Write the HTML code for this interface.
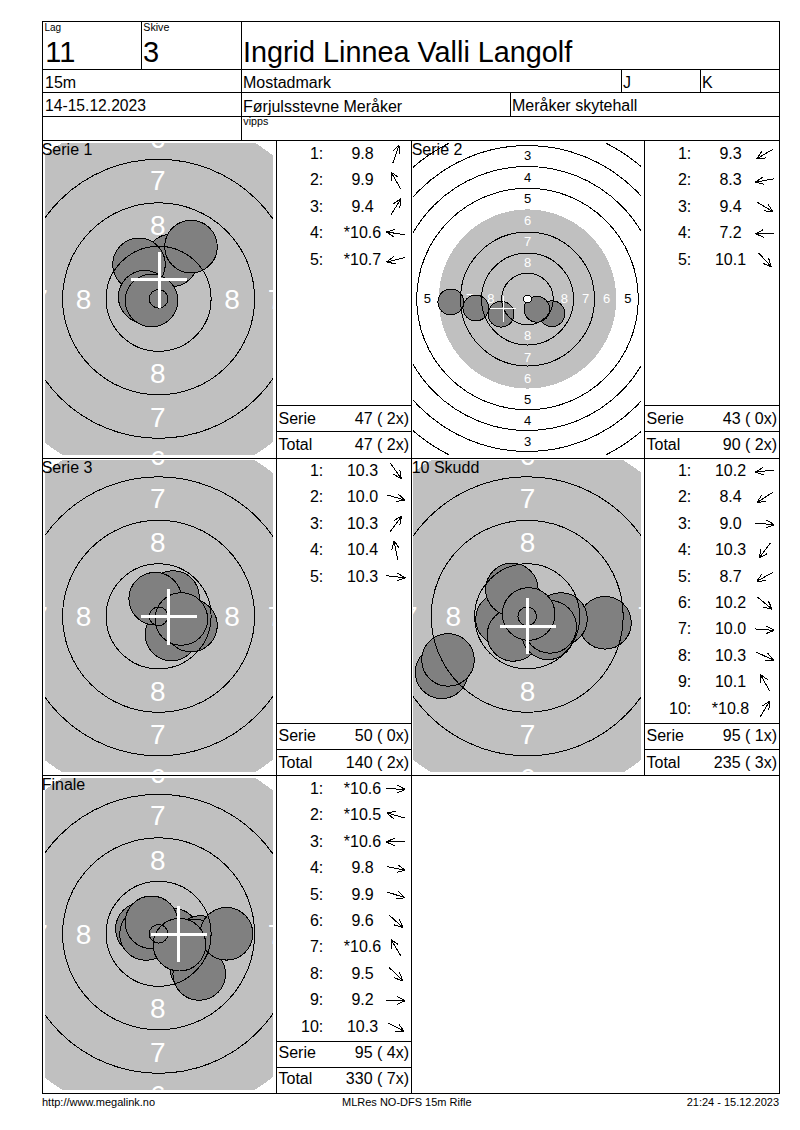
<!DOCTYPE html>
<html><head><meta charset="utf-8"><title>MLRes</title>
<style>html,body{margin:0;padding:0;background:#fff}svg{display:block}text{font-family:"Liberation Sans", sans-serif;}</style>
</head><body>
<svg width="800" height="1130" viewBox="0 0 800 1130">
<rect x="0" y="0" width="800" height="1130" fill="#fff"/>
<clipPath id="clip0"><rect x="45" y="143" width="228" height="312"/></clipPath>
<g clip-path="url(#clip0)" shape-rendering="crispEdges">
<circle cx="158.6" cy="298.8" r="183.30" fill="#c0c0c0"/>
<text x="157.80" y="234.57" font-size="28" text-anchor="middle" fill="#fff">8</text>
<text x="157.80" y="383.07" font-size="28" text-anchor="middle" fill="#fff">8</text>
<text x="83.55" y="308.82" font-size="28" text-anchor="middle" fill="#fff">8</text>
<text x="232.05" y="308.82" font-size="28" text-anchor="middle" fill="#fff">8</text>
<text x="157.80" y="190.07" font-size="28" text-anchor="middle" fill="#fff">7</text>
<text x="157.80" y="426.57" font-size="28" text-anchor="middle" fill="#fff">7</text>
<text x="40.05" y="308.82" font-size="28" text-anchor="middle" fill="#fff">7</text>
<text x="275.55" y="308.82" font-size="28" text-anchor="middle" fill="#fff">7</text>
<text x="157.80" y="147.57" font-size="28" text-anchor="middle" fill="#fff">6</text>
<text x="157.80" y="470.07" font-size="28" text-anchor="middle" fill="#fff">6</text>
<text x="-3.45" y="308.82" font-size="28" text-anchor="middle" fill="#fff">6</text>
<text x="319.05" y="308.82" font-size="28" text-anchor="middle" fill="#fff">6</text>
<text x="157.80" y="104.07" font-size="28" text-anchor="middle" fill="#000">5</text>
<text x="157.80" y="513.57" font-size="28" text-anchor="middle" fill="#000">5</text>
<text x="-46.95" y="308.82" font-size="28" text-anchor="middle" fill="#000">5</text>
<text x="362.55" y="308.82" font-size="28" text-anchor="middle" fill="#000">5</text>
<circle cx="171.5" cy="260.4" r="26.30" fill="#808080" stroke="#000" stroke-width="1"/>
<circle cx="139" cy="264.4" r="26.30" fill="#808080" stroke="#000" stroke-width="1"/>
<circle cx="191" cy="246.6" r="26.30" fill="#808080" stroke="#000" stroke-width="1"/>
<circle cx="144.7" cy="296.8" r="26.30" fill="#808080" stroke="#000" stroke-width="1"/>
<circle cx="151.5" cy="300.5" r="26.30" fill="#808080" stroke="#000" stroke-width="1"/>
<circle cx="158.6" cy="298.8" r="9.30" fill="none" stroke="#000" stroke-width="1"/>
<circle cx="158.6" cy="298.8" r="52.50" fill="none" stroke="#000" stroke-width="1"/>
<circle cx="158.6" cy="298.8" r="96.00" fill="none" stroke="#000" stroke-width="1"/>
<circle cx="158.6" cy="298.8" r="139.50" fill="none" stroke="#000" stroke-width="1"/>
<circle cx="158.6" cy="298.8" r="226.50" fill="none" stroke="#000" stroke-width="1"/>
<rect x="131.3" y="278.0" width="56" height="3" fill="#fff"/>
<rect x="157.8" y="251.5" width="3" height="56" fill="#fff"/>
</g>
<text x="41.7" y="155" font-size="16" text-anchor="start" fill="#000" >Serie 1</text>
<text x="323.3" y="158.75" font-size="16" text-anchor="end" fill="#000" >1:</text>
<text x="362.5" y="158.75" font-size="16" text-anchor="middle" fill="#000" >9.8</text>
<path d="M392.87,163.01L398.93,144.99M398.93,144.99L392.72,151.52M398.93,144.99L399.93,153.94" stroke="#000" stroke-width="1" fill="none" shape-rendering="crispEdges"/>
<text x="323.3" y="185.20" font-size="16" text-anchor="end" fill="#000" >2:</text>
<text x="362.5" y="185.20" font-size="16" text-anchor="middle" fill="#000" >9.9</text>
<path d="M400.60,188.70L391.20,172.20M391.20,172.20L391.93,181.17M391.20,172.20L398.54,177.40" stroke="#000" stroke-width="1" fill="none" shape-rendering="crispEdges"/>
<text x="323.3" y="211.65" font-size="16" text-anchor="end" fill="#000" >3:</text>
<text x="362.5" y="211.65" font-size="16" text-anchor="middle" fill="#000" >9.4</text>
<path d="M390.89,214.97L400.91,198.83M400.91,198.83L393.38,203.75M400.91,198.83L399.84,207.76" stroke="#000" stroke-width="1" fill="none" shape-rendering="crispEdges"/>
<text x="323.3" y="238.10" font-size="16" text-anchor="end" fill="#000" >4:</text>
<text x="362.5" y="238.10" font-size="16" text-anchor="middle" fill="#000" >*10.6</text>
<path d="M405.30,234.70L386.50,232.00M386.50,232.00L394.03,236.92M386.50,232.00L395.11,229.39" stroke="#000" stroke-width="1" fill="none" shape-rendering="crispEdges"/>
<text x="323.3" y="264.55" font-size="16" text-anchor="end" fill="#000" >5:</text>
<text x="362.5" y="264.55" font-size="16" text-anchor="middle" fill="#000" >*10.7</text>
<path d="M405.14,257.59L386.66,262.01M386.66,262.01L395.48,263.81M386.66,262.01L393.71,256.41" stroke="#000" stroke-width="1" fill="none" shape-rendering="crispEdges"/>
<text x="278.5" y="423.75" font-size="16" text-anchor="start" fill="#000" >Serie</text>
<text x="409" y="423.75" font-size="16" text-anchor="end" fill="#000" >47 ( 2x)</text>
<text x="278.5" y="450" font-size="16" text-anchor="start" fill="#000" >Total</text>
<text x="409" y="450" font-size="16" text-anchor="end" fill="#000" >47 ( 2x)</text>
<clipPath id="clip1"><rect x="413" y="143" width="228" height="312"/></clipPath>
<g clip-path="url(#clip1)" shape-rendering="crispEdges">
<ellipse cx="527.5" cy="299.0" rx="88.8" ry="89.6" fill="#c0c0c0"/>
<text x="527.60" y="266.95" font-size="13" text-anchor="middle" fill="#fff">8</text>
<text x="527.60" y="340.35" font-size="13" text-anchor="middle" fill="#fff">8</text>
<text x="490.90" y="302.85" font-size="13" text-anchor="middle" fill="#fff">8</text>
<text x="564.30" y="302.85" font-size="13" text-anchor="middle" fill="#fff">8</text>
<text x="527.60" y="245.75" font-size="13" text-anchor="middle" fill="#fff">7</text>
<text x="527.60" y="361.55" font-size="13" text-anchor="middle" fill="#fff">7</text>
<text x="469.70" y="302.85" font-size="13" text-anchor="middle" fill="#fff">7</text>
<text x="585.50" y="302.85" font-size="13" text-anchor="middle" fill="#fff">7</text>
<text x="527.60" y="224.55" font-size="13" text-anchor="middle" fill="#fff">6</text>
<text x="527.60" y="382.75" font-size="13" text-anchor="middle" fill="#fff">6</text>
<text x="448.50" y="302.85" font-size="13" text-anchor="middle" fill="#fff">6</text>
<text x="606.70" y="302.85" font-size="13" text-anchor="middle" fill="#fff">6</text>
<text x="527.60" y="203.35" font-size="13" text-anchor="middle" fill="#000">5</text>
<text x="527.60" y="403.95" font-size="13" text-anchor="middle" fill="#000">5</text>
<text x="427.30" y="302.85" font-size="13" text-anchor="middle" fill="#000">5</text>
<text x="627.90" y="302.85" font-size="13" text-anchor="middle" fill="#000">5</text>
<text x="527.60" y="182.15" font-size="13" text-anchor="middle" fill="#000">4</text>
<text x="527.60" y="425.15" font-size="13" text-anchor="middle" fill="#000">4</text>
<text x="406.10" y="302.85" font-size="13" text-anchor="middle" fill="#000">4</text>
<text x="649.10" y="302.85" font-size="13" text-anchor="middle" fill="#000">4</text>
<text x="527.60" y="160.15" font-size="13" text-anchor="middle" fill="#000">3</text>
<text x="527.60" y="446.35" font-size="13" text-anchor="middle" fill="#000">3</text>
<text x="384.90" y="302.85" font-size="13" text-anchor="middle" fill="#000">3</text>
<text x="670.30" y="302.85" font-size="13" text-anchor="middle" fill="#000">3</text>
<text x="527.60" y="139.75" font-size="13" text-anchor="middle" fill="#000">2</text>
<text x="527.60" y="467.55" font-size="13" text-anchor="middle" fill="#000">2</text>
<text x="363.70" y="302.85" font-size="13" text-anchor="middle" fill="#000">2</text>
<text x="691.50" y="302.85" font-size="13" text-anchor="middle" fill="#000">2</text>
<text x="527.60" y="118.55" font-size="13" text-anchor="middle" fill="#000">1</text>
<text x="527.60" y="488.75" font-size="13" text-anchor="middle" fill="#000">1</text>
<text x="342.50" y="302.85" font-size="13" text-anchor="middle" fill="#000">1</text>
<text x="712.70" y="302.85" font-size="13" text-anchor="middle" fill="#000">1</text>
<circle cx="501.1" cy="314.2" r="12.89" fill="#808080" stroke="#000" stroke-width="1"/>
<circle cx="475.8" cy="308.0" r="12.89" fill="#808080" stroke="#000" stroke-width="1"/>
<circle cx="552" cy="313.7" r="12.89" fill="#808080" stroke="#000" stroke-width="1"/>
<circle cx="450.8" cy="301.9" r="12.89" fill="#808080" stroke="#000" stroke-width="1"/>
<circle cx="536.9" cy="309.3" r="12.89" fill="#808080" stroke="#000" stroke-width="1"/>
<circle cx="527.5" cy="299.0" r="3.90" fill="#fff" stroke="#000" stroke-width="1"/>
<circle cx="527.5" cy="299.0" r="25.80" fill="none" stroke="#000" stroke-width="1"/>
<circle cx="527.5" cy="299.0" r="46.00" fill="none" stroke="#000" stroke-width="1"/>
<circle cx="527.5" cy="299.0" r="67.00" fill="none" stroke="#000" stroke-width="1"/>
<circle cx="527.5" cy="299.0" r="110.80" fill="none" stroke="#000" stroke-width="1"/>
<circle cx="527.5" cy="298.5" r="132.00" fill="none" stroke="#000" stroke-width="1"/>
<circle cx="527.5" cy="298.5" r="153.00" fill="none" stroke="#000" stroke-width="1"/>
<circle cx="527.5" cy="299.0" r="174.50" fill="none" stroke="#000" stroke-width="1"/>
<circle cx="527.5" cy="299.0" r="196.00" fill="none" stroke="#000" stroke-width="1"/>
<rect x="490.3" y="308.0" width="26" height="1" fill="#fff"/>
<rect x="502.8" y="295.5" width="1" height="26" fill="#fff"/>
</g>
<text x="411.7" y="155" font-size="16" text-anchor="start" fill="#000" >Serie 2</text>
<text x="691.3" y="158.75" font-size="16" text-anchor="end" fill="#000" >1:</text>
<text x="730.5" y="158.75" font-size="16" text-anchor="middle" fill="#000" >9.3</text>
<path d="M773.13,149.26L756.67,158.74M756.67,158.74L765.63,157.97M756.67,158.74L761.84,151.37" stroke="#000" stroke-width="1" fill="none" shape-rendering="crispEdges"/>
<text x="691.3" y="185.20" font-size="16" text-anchor="end" fill="#000" >2:</text>
<text x="730.5" y="185.20" font-size="16" text-anchor="middle" fill="#000" >8.3</text>
<path d="M774.26,178.82L755.54,182.08M755.54,182.08L764.23,184.43M755.54,182.08L762.92,176.93" stroke="#000" stroke-width="1" fill="none" shape-rendering="crispEdges"/>
<text x="691.3" y="211.65" font-size="16" text-anchor="end" fill="#000" >3:</text>
<text x="730.5" y="211.65" font-size="16" text-anchor="middle" fill="#000" >9.4</text>
<path d="M756.75,202.01L773.05,211.79M773.05,211.79L768.01,204.33M773.05,211.79L764.09,210.85" stroke="#000" stroke-width="1" fill="none" shape-rendering="crispEdges"/>
<text x="691.3" y="238.10" font-size="16" text-anchor="end" fill="#000" >4:</text>
<text x="730.5" y="238.10" font-size="16" text-anchor="middle" fill="#000" >7.2</text>
<path d="M774.39,232.99L755.41,233.71M755.41,233.71L763.70,237.20M755.41,233.71L763.41,229.60" stroke="#000" stroke-width="1" fill="none" shape-rendering="crispEdges"/>
<text x="691.3" y="264.55" font-size="16" text-anchor="end" fill="#000" >5:</text>
<text x="730.5" y="264.55" font-size="16" text-anchor="middle" fill="#000" >10.1</text>
<path d="M758.50,252.78L771.30,266.82M771.30,266.82L768.61,258.23M771.30,266.82L763.00,263.36" stroke="#000" stroke-width="1" fill="none" shape-rendering="crispEdges"/>
<text x="646.5" y="423.75" font-size="16" text-anchor="start" fill="#000" >Serie</text>
<text x="777" y="423.75" font-size="16" text-anchor="end" fill="#000" >43 ( 0x)</text>
<text x="646.5" y="450" font-size="16" text-anchor="start" fill="#000" >Total</text>
<text x="777" y="450" font-size="16" text-anchor="end" fill="#000" >90 ( 2x)</text>
<clipPath id="clip2"><rect x="45" y="460" width="228" height="312"/></clipPath>
<g clip-path="url(#clip2)" shape-rendering="crispEdges">
<circle cx="158.6" cy="616.3" r="183.30" fill="#c0c0c0"/>
<text x="157.80" y="552.07" font-size="28" text-anchor="middle" fill="#fff">8</text>
<text x="157.80" y="700.57" font-size="28" text-anchor="middle" fill="#fff">8</text>
<text x="83.55" y="626.32" font-size="28" text-anchor="middle" fill="#fff">8</text>
<text x="232.05" y="626.32" font-size="28" text-anchor="middle" fill="#fff">8</text>
<text x="157.80" y="507.57" font-size="28" text-anchor="middle" fill="#fff">7</text>
<text x="157.80" y="744.07" font-size="28" text-anchor="middle" fill="#fff">7</text>
<text x="40.05" y="626.32" font-size="28" text-anchor="middle" fill="#fff">7</text>
<text x="275.55" y="626.32" font-size="28" text-anchor="middle" fill="#fff">7</text>
<text x="157.80" y="465.07" font-size="28" text-anchor="middle" fill="#fff">6</text>
<text x="157.80" y="787.57" font-size="28" text-anchor="middle" fill="#fff">6</text>
<text x="-3.45" y="626.32" font-size="28" text-anchor="middle" fill="#fff">6</text>
<text x="319.05" y="626.32" font-size="28" text-anchor="middle" fill="#fff">6</text>
<text x="157.80" y="421.57" font-size="28" text-anchor="middle" fill="#000">5</text>
<text x="157.80" y="831.07" font-size="28" text-anchor="middle" fill="#000">5</text>
<text x="-46.95" y="626.32" font-size="28" text-anchor="middle" fill="#000">5</text>
<text x="362.55" y="626.32" font-size="28" text-anchor="middle" fill="#000">5</text>
<circle cx="171.5" cy="634.5" r="26.30" fill="#808080" stroke="#000" stroke-width="1"/>
<circle cx="191" cy="625.5" r="26.30" fill="#808080" stroke="#000" stroke-width="1"/>
<circle cx="173" cy="597" r="26.30" fill="#808080" stroke="#000" stroke-width="1"/>
<circle cx="155.2" cy="598.7" r="26.30" fill="#808080" stroke="#000" stroke-width="1"/>
<circle cx="181.3" cy="619" r="26.30" fill="#808080" stroke="#000" stroke-width="1"/>
<circle cx="158.6" cy="616.3" r="9.30" fill="none" stroke="#000" stroke-width="1"/>
<circle cx="158.6" cy="616.3" r="52.50" fill="none" stroke="#000" stroke-width="1"/>
<circle cx="158.6" cy="616.3" r="96.00" fill="none" stroke="#000" stroke-width="1"/>
<circle cx="158.6" cy="616.3" r="139.50" fill="none" stroke="#000" stroke-width="1"/>
<circle cx="158.6" cy="616.3" r="226.50" fill="none" stroke="#000" stroke-width="1"/>
<rect x="140.6" y="615.1" width="56" height="3" fill="#fff"/>
<rect x="167.1" y="588.6" width="3" height="56" fill="#fff"/>
</g>
<text x="41.7" y="473" font-size="16" text-anchor="start" fill="#000" >Serie 3</text>
<text x="323.3" y="475.75" font-size="16" text-anchor="end" fill="#000" >1:</text>
<text x="362.5" y="475.75" font-size="16" text-anchor="middle" fill="#000" >10.3</text>
<path d="M390.41,463.25L401.39,478.75M401.39,478.75L399.78,469.90M401.39,478.75L393.57,474.30" stroke="#000" stroke-width="1" fill="none" shape-rendering="crispEdges"/>
<text x="323.3" y="502.20" font-size="16" text-anchor="end" fill="#000" >2:</text>
<text x="362.5" y="502.20" font-size="16" text-anchor="middle" fill="#000" >10.0</text>
<path d="M386.76,494.86L405.04,500.04M405.04,500.04L398.23,494.16M405.04,500.04L396.15,501.48" stroke="#000" stroke-width="1" fill="none" shape-rendering="crispEdges"/>
<text x="323.3" y="528.65" font-size="16" text-anchor="end" fill="#000" >3:</text>
<text x="362.5" y="528.65" font-size="16" text-anchor="middle" fill="#000" >10.3</text>
<path d="M390.22,531.51L401.58,516.29M401.58,516.29L393.65,520.55M401.58,516.29L399.75,525.10" stroke="#000" stroke-width="1" fill="none" shape-rendering="crispEdges"/>
<text x="323.3" y="555.10" font-size="16" text-anchor="end" fill="#000" >4:</text>
<text x="362.5" y="555.10" font-size="16" text-anchor="middle" fill="#000" >10.4</text>
<path d="M397.70,559.68L394.10,541.02M394.10,541.02L391.91,549.75M394.10,541.02L399.38,548.31" stroke="#000" stroke-width="1" fill="none" shape-rendering="crispEdges"/>
<text x="323.3" y="581.55" font-size="16" text-anchor="end" fill="#000" >5:</text>
<text x="362.5" y="581.55" font-size="16" text-anchor="middle" fill="#000" >10.3</text>
<path d="M386.47,575.68L405.33,577.92M405.33,577.92L397.68,573.18M405.33,577.92L396.78,580.74" stroke="#000" stroke-width="1" fill="none" shape-rendering="crispEdges"/>
<text x="278.5" y="740.75" font-size="16" text-anchor="start" fill="#000" >Serie</text>
<text x="409" y="740.75" font-size="16" text-anchor="end" fill="#000" >50 ( 0x)</text>
<text x="278.5" y="768" font-size="16" text-anchor="start" fill="#000" >Total</text>
<text x="409" y="768" font-size="16" text-anchor="end" fill="#000" >140 ( 2x)</text>
<clipPath id="clip3"><rect x="413" y="460" width="228" height="312"/></clipPath>
<g clip-path="url(#clip3)" shape-rendering="crispEdges">
<circle cx="527.2" cy="616.3" r="183.30" fill="#c0c0c0"/>
<text x="527.50" y="552.07" font-size="28" text-anchor="middle" fill="#fff">8</text>
<text x="527.50" y="700.57" font-size="28" text-anchor="middle" fill="#fff">8</text>
<text x="453.25" y="626.32" font-size="28" text-anchor="middle" fill="#fff">8</text>
<text x="601.75" y="626.32" font-size="28" text-anchor="middle" fill="#fff">8</text>
<text x="527.50" y="507.57" font-size="28" text-anchor="middle" fill="#fff">7</text>
<text x="527.50" y="744.07" font-size="28" text-anchor="middle" fill="#fff">7</text>
<text x="409.75" y="626.32" font-size="28" text-anchor="middle" fill="#fff">7</text>
<text x="645.25" y="626.32" font-size="28" text-anchor="middle" fill="#fff">7</text>
<text x="527.50" y="465.07" font-size="28" text-anchor="middle" fill="#fff">6</text>
<text x="527.50" y="787.57" font-size="28" text-anchor="middle" fill="#fff">6</text>
<text x="366.25" y="626.32" font-size="28" text-anchor="middle" fill="#fff">6</text>
<text x="688.75" y="626.32" font-size="28" text-anchor="middle" fill="#fff">6</text>
<text x="527.50" y="421.57" font-size="28" text-anchor="middle" fill="#000">5</text>
<text x="527.50" y="831.07" font-size="28" text-anchor="middle" fill="#000">5</text>
<text x="322.75" y="626.32" font-size="28" text-anchor="middle" fill="#000">5</text>
<text x="732.25" y="626.32" font-size="28" text-anchor="middle" fill="#000">5</text>
<circle cx="502" cy="619" r="26.30" fill="#808080" stroke="#000" stroke-width="1"/>
<circle cx="441.6" cy="672.3" r="26.30" fill="#808080" stroke="#000" stroke-width="1"/>
<circle cx="605" cy="622.8" r="26.30" fill="#808080" stroke="#000" stroke-width="1"/>
<circle cx="513.5" cy="634.9" r="26.30" fill="#808080" stroke="#000" stroke-width="1"/>
<circle cx="448" cy="659.9" r="26.30" fill="#808080" stroke="#000" stroke-width="1"/>
<circle cx="548" cy="633.3" r="26.30" fill="#808080" stroke="#000" stroke-width="1"/>
<circle cx="561" cy="619" r="26.30" fill="#808080" stroke="#000" stroke-width="1"/>
<circle cx="550.2" cy="626.9" r="26.30" fill="#808080" stroke="#000" stroke-width="1"/>
<circle cx="511.9" cy="589.5" r="26.30" fill="#808080" stroke="#000" stroke-width="1"/>
<circle cx="528.6" cy="614" r="26.30" fill="#808080" stroke="#000" stroke-width="1"/>
<circle cx="527.2" cy="616.3" r="9.30" fill="none" stroke="#000" stroke-width="1"/>
<circle cx="527.2" cy="616.3" r="52.50" fill="none" stroke="#000" stroke-width="1"/>
<circle cx="527.2" cy="616.3" r="96.00" fill="none" stroke="#000" stroke-width="1"/>
<circle cx="527.2" cy="616.3" r="139.50" fill="none" stroke="#000" stroke-width="1"/>
<circle cx="527.2" cy="616.3" r="226.50" fill="none" stroke="#000" stroke-width="1"/>
<rect x="499.5" y="624.5" width="56" height="3" fill="#fff"/>
<rect x="526.0" y="598" width="3" height="56" fill="#fff"/>
</g>
<text x="411.7" y="473" font-size="16" text-anchor="start" fill="#000" >10 Skudd</text>
<text x="691.3" y="475.75" font-size="16" text-anchor="end" fill="#000" >1:</text>
<text x="730.5" y="475.75" font-size="16" text-anchor="middle" fill="#000" >10.2</text>
<path d="M774.35,469.99L755.45,472.01M755.45,472.01L763.97,474.93M755.45,472.01L763.16,467.36" stroke="#000" stroke-width="1" fill="none" shape-rendering="crispEdges"/>
<text x="691.3" y="502.20" font-size="16" text-anchor="end" fill="#000" >2:</text>
<text x="730.5" y="502.20" font-size="16" text-anchor="middle" fill="#000" >8.4</text>
<path d="M772.85,492.25L756.95,502.65M756.95,502.65L765.86,501.37M756.95,502.65L761.69,495.00" stroke="#000" stroke-width="1" fill="none" shape-rendering="crispEdges"/>
<text x="691.3" y="528.65" font-size="16" text-anchor="end" fill="#000" >3:</text>
<text x="730.5" y="528.65" font-size="16" text-anchor="middle" fill="#000" >9.0</text>
<path d="M755.43,523.11L774.37,524.69M774.37,524.69L766.56,520.22M774.37,524.69L765.92,527.80" stroke="#000" stroke-width="1" fill="none" shape-rendering="crispEdges"/>
<text x="691.3" y="555.10" font-size="16" text-anchor="end" fill="#000" >4:</text>
<text x="730.5" y="555.10" font-size="16" text-anchor="middle" fill="#000" >10.3</text>
<path d="M770.53,542.70L759.27,558.00M759.27,558.00L767.17,553.69M759.27,558.00L761.04,549.18" stroke="#000" stroke-width="1" fill="none" shape-rendering="crispEdges"/>
<text x="691.3" y="581.55" font-size="16" text-anchor="end" fill="#000" >5:</text>
<text x="730.5" y="581.55" font-size="16" text-anchor="middle" fill="#000" >8.7</text>
<path d="M773.22,572.22L756.58,581.38M756.58,581.38L765.56,580.78M756.58,581.38L761.89,574.12" stroke="#000" stroke-width="1" fill="none" shape-rendering="crispEdges"/>
<text x="691.3" y="608.00" font-size="16" text-anchor="end" fill="#000" >6:</text>
<text x="730.5" y="608.00" font-size="16" text-anchor="middle" fill="#000" >10.2</text>
<path d="M757.54,597.24L772.26,609.26M772.26,609.26L768.35,601.15M772.26,609.26L763.53,607.05" stroke="#000" stroke-width="1" fill="none" shape-rendering="crispEdges"/>
<text x="691.3" y="634.45" font-size="16" text-anchor="end" fill="#000" >7:</text>
<text x="730.5" y="634.45" font-size="16" text-anchor="middle" fill="#000" >10.0</text>
<path d="M755.43,628.94L774.37,630.46M774.37,630.46L766.54,626.02M774.37,630.46L765.94,633.60" stroke="#000" stroke-width="1" fill="none" shape-rendering="crispEdges"/>
<text x="691.3" y="660.90" font-size="16" text-anchor="end" fill="#000" >8:</text>
<text x="730.5" y="660.90" font-size="16" text-anchor="middle" fill="#000" >10.3</text>
<path d="M756.27,652.17L773.53,660.13M773.53,660.13L767.71,653.26M773.53,660.13L764.53,660.17" stroke="#000" stroke-width="1" fill="none" shape-rendering="crispEdges"/>
<text x="691.3" y="687.35" font-size="16" text-anchor="end" fill="#000" >9:</text>
<text x="730.5" y="687.35" font-size="16" text-anchor="middle" fill="#000" >10.1</text>
<path d="M769.61,690.85L760.19,674.35M760.19,674.35L760.93,683.32M760.19,674.35L767.54,679.55" stroke="#000" stroke-width="1" fill="none" shape-rendering="crispEdges"/>
<text x="691.3" y="713.80" font-size="16" text-anchor="end" fill="#000" >10:</text>
<text x="730.5" y="713.80" font-size="16" text-anchor="middle" fill="#000" >*10.8</text>
<path d="M759.96,717.16L769.84,700.94M769.84,700.94L762.35,705.92M769.84,700.94L768.85,709.88" stroke="#000" stroke-width="1" fill="none" shape-rendering="crispEdges"/>
<text x="646.5" y="740.75" font-size="16" text-anchor="start" fill="#000" >Serie</text>
<text x="777" y="740.75" font-size="16" text-anchor="end" fill="#000" >95 ( 1x)</text>
<text x="646.5" y="768" font-size="16" text-anchor="start" fill="#000" >Total</text>
<text x="777" y="768" font-size="16" text-anchor="end" fill="#000" >235 ( 3x)</text>
<clipPath id="clip4"><rect x="45" y="778" width="228" height="312"/></clipPath>
<g clip-path="url(#clip4)" shape-rendering="crispEdges">
<circle cx="158.6" cy="933.8" r="183.30" fill="#c0c0c0"/>
<text x="157.80" y="869.57" font-size="28" text-anchor="middle" fill="#fff">8</text>
<text x="157.80" y="1018.07" font-size="28" text-anchor="middle" fill="#fff">8</text>
<text x="83.55" y="943.82" font-size="28" text-anchor="middle" fill="#fff">8</text>
<text x="232.05" y="943.82" font-size="28" text-anchor="middle" fill="#fff">8</text>
<text x="157.80" y="825.07" font-size="28" text-anchor="middle" fill="#fff">7</text>
<text x="157.80" y="1061.57" font-size="28" text-anchor="middle" fill="#fff">7</text>
<text x="40.05" y="943.82" font-size="28" text-anchor="middle" fill="#fff">7</text>
<text x="275.55" y="943.82" font-size="28" text-anchor="middle" fill="#fff">7</text>
<text x="157.80" y="782.57" font-size="28" text-anchor="middle" fill="#fff">6</text>
<text x="157.80" y="1105.07" font-size="28" text-anchor="middle" fill="#fff">6</text>
<text x="-3.45" y="943.82" font-size="28" text-anchor="middle" fill="#fff">6</text>
<text x="319.05" y="943.82" font-size="28" text-anchor="middle" fill="#fff">6</text>
<text x="157.80" y="739.07" font-size="28" text-anchor="middle" fill="#000">5</text>
<text x="157.80" y="1148.57" font-size="28" text-anchor="middle" fill="#000">5</text>
<text x="-46.95" y="943.82" font-size="28" text-anchor="middle" fill="#000">5</text>
<text x="362.55" y="943.82" font-size="28" text-anchor="middle" fill="#000">5</text>
<circle cx="173" cy="934.6" r="26.30" fill="#808080" stroke="#000" stroke-width="1"/>
<circle cx="141.9" cy="928.9" r="26.30" fill="#808080" stroke="#000" stroke-width="1"/>
<circle cx="146" cy="934" r="26.30" fill="#808080" stroke="#000" stroke-width="1"/>
<circle cx="200.5" cy="942" r="26.30" fill="#808080" stroke="#000" stroke-width="1"/>
<circle cx="194.9" cy="945.6" r="26.30" fill="#808080" stroke="#000" stroke-width="1"/>
<circle cx="196.4" cy="968.2" r="26.30" fill="#808080" stroke="#000" stroke-width="1"/>
<circle cx="151.5" cy="922.3" r="26.30" fill="#808080" stroke="#000" stroke-width="1"/>
<circle cx="199.2" cy="974" r="26.30" fill="#808080" stroke="#000" stroke-width="1"/>
<circle cx="226.5" cy="933.8" r="26.30" fill="#808080" stroke="#000" stroke-width="1"/>
<circle cx="179.5" cy="944.7" r="26.30" fill="#808080" stroke="#000" stroke-width="1"/>
<circle cx="158.6" cy="933.8" r="9.30" fill="none" stroke="#000" stroke-width="1"/>
<circle cx="158.6" cy="933.8" r="52.50" fill="none" stroke="#000" stroke-width="1"/>
<circle cx="158.6" cy="933.8" r="96.00" fill="none" stroke="#000" stroke-width="1"/>
<circle cx="158.6" cy="933.8" r="139.50" fill="none" stroke="#000" stroke-width="1"/>
<circle cx="158.6" cy="933.8" r="226.50" fill="none" stroke="#000" stroke-width="1"/>
<rect x="150.6" y="932.7" width="56" height="3" fill="#fff"/>
<rect x="177.1" y="906.2" width="3" height="56" fill="#fff"/>
</g>
<text x="41.7" y="790" font-size="16" text-anchor="start" fill="#000" >Finale</text>
<text x="323.3" y="793.75" font-size="16" text-anchor="end" fill="#000" >1:</text>
<text x="362.5" y="793.75" font-size="16" text-anchor="middle" fill="#000" >*10.6</text>
<path d="M386.41,788.47L405.39,789.53M405.39,789.53L397.45,785.28M405.39,789.53L397.03,792.87" stroke="#000" stroke-width="1" fill="none" shape-rendering="crispEdges"/>
<text x="323.3" y="820.20" font-size="16" text-anchor="end" fill="#000" >2:</text>
<text x="362.5" y="820.20" font-size="16" text-anchor="middle" fill="#000" >*10.5</text>
<path d="M405.02,818.12L386.78,812.78M386.78,812.78L393.54,818.72M386.78,812.78L395.68,811.42" stroke="#000" stroke-width="1" fill="none" shape-rendering="crispEdges"/>
<text x="323.3" y="846.65" font-size="16" text-anchor="end" fill="#000" >3:</text>
<text x="362.5" y="846.65" font-size="16" text-anchor="middle" fill="#000" >*10.6</text>
<path d="M405.40,841.75L386.40,842.05M386.40,842.05L394.62,845.72M386.40,842.05L394.50,838.12" stroke="#000" stroke-width="1" fill="none" shape-rendering="crispEdges"/>
<text x="323.3" y="873.10" font-size="16" text-anchor="end" fill="#000" >4:</text>
<text x="362.5" y="873.10" font-size="16" text-anchor="middle" fill="#000" >9.8</text>
<path d="M386.58,866.53L405.22,870.17M405.22,870.17L397.95,864.88M405.22,870.17L396.49,872.34" stroke="#000" stroke-width="1" fill="none" shape-rendering="crispEdges"/>
<text x="323.3" y="899.55" font-size="16" text-anchor="end" fill="#000" >5:</text>
<text x="362.5" y="899.55" font-size="16" text-anchor="middle" fill="#000" >9.9</text>
<path d="M386.87,891.86L404.93,897.74M404.93,897.74L398.35,891.60M404.93,897.74L396.00,898.83" stroke="#000" stroke-width="1" fill="none" shape-rendering="crispEdges"/>
<text x="323.3" y="926.00" font-size="16" text-anchor="end" fill="#000" >6:</text>
<text x="362.5" y="926.00" font-size="16" text-anchor="middle" fill="#000" >9.6</text>
<path d="M388.87,914.86L402.93,927.64M402.93,927.64L399.45,919.34M402.93,927.64L394.33,924.97" stroke="#000" stroke-width="1" fill="none" shape-rendering="crispEdges"/>
<text x="323.3" y="952.45" font-size="16" text-anchor="end" fill="#000" >7:</text>
<text x="362.5" y="952.45" font-size="16" text-anchor="middle" fill="#000" >*10.6</text>
<path d="M400.89,955.78L390.91,939.62M390.91,939.62L391.96,948.56M390.91,939.62L398.43,944.56" stroke="#000" stroke-width="1" fill="none" shape-rendering="crispEdges"/>
<text x="323.3" y="978.90" font-size="16" text-anchor="end" fill="#000" >8:</text>
<text x="362.5" y="978.90" font-size="16" text-anchor="middle" fill="#000" >9.5</text>
<path d="M389.15,967.47L402.65,980.83M402.65,980.83L399.53,972.39M402.65,980.83L394.18,977.80" stroke="#000" stroke-width="1" fill="none" shape-rendering="crispEdges"/>
<text x="323.3" y="1005.35" font-size="16" text-anchor="end" fill="#000" >9:</text>
<text x="362.5" y="1005.35" font-size="16" text-anchor="middle" fill="#000" >9.2</text>
<path d="M386.40,1000.60L405.40,1000.60M405.40,1000.60L397.24,996.80M405.40,1000.60L397.24,1004.40" stroke="#000" stroke-width="1" fill="none" shape-rendering="crispEdges"/>
<text x="323.3" y="1031.80" font-size="16" text-anchor="end" fill="#000" >10:</text>
<text x="362.5" y="1031.80" font-size="16" text-anchor="middle" fill="#000" >10.3</text>
<path d="M387.48,1022.66L404.32,1031.44M404.32,1031.44L398.85,1024.30M404.32,1031.44L395.33,1031.04" stroke="#000" stroke-width="1" fill="none" shape-rendering="crispEdges"/>
<text x="278.5" y="1058.1" font-size="16" text-anchor="start" fill="#000" >Serie</text>
<text x="409" y="1058.1" font-size="16" text-anchor="end" fill="#000" >95 ( 4x)</text>
<text x="278.5" y="1084.3" font-size="16" text-anchor="start" fill="#000" >Total</text>
<text x="409" y="1084.3" font-size="16" text-anchor="end" fill="#000" >330 ( 7x)</text>
<rect x="42" y="21" width="738" height="1" fill="#000"/>
<rect x="42" y="69" width="738" height="1" fill="#000"/>
<rect x="42" y="92" width="738" height="1" fill="#000"/>
<rect x="42" y="116" width="738" height="1" fill="#000"/>
<rect x="42" y="140" width="738" height="1" fill="#000"/>
<rect x="42" y="458" width="738" height="1" fill="#000"/>
<rect x="42" y="775" width="738" height="1" fill="#000"/>
<rect x="42" y="1093" width="738" height="1" fill="#000"/>
<rect x="42" y="21" width="1" height="1073" fill="#000"/>
<rect x="779" y="21" width="1" height="1073" fill="#000"/>
<rect x="141" y="21" width="1" height="49" fill="#000"/>
<rect x="241" y="21" width="1" height="120" fill="#000"/>
<rect x="621" y="69" width="1" height="24" fill="#000"/>
<rect x="700" y="69" width="1" height="24" fill="#000"/>
<rect x="510" y="92" width="1" height="25" fill="#000"/>
<rect x="276" y="140" width="1" height="954" fill="#000"/>
<rect x="411" y="140" width="1" height="954" fill="#000"/>
<rect x="644" y="140" width="1" height="636" fill="#000"/>
<rect x="276" y="405" width="136" height="1" fill="#000"/>
<rect x="276" y="431" width="136" height="1" fill="#000"/>
<rect x="644" y="405" width="136" height="1" fill="#000"/>
<rect x="644" y="431" width="136" height="1" fill="#000"/>
<rect x="276" y="723" width="136" height="1" fill="#000"/>
<rect x="276" y="749" width="136" height="1" fill="#000"/>
<rect x="644" y="723" width="136" height="1" fill="#000"/>
<rect x="644" y="749" width="136" height="1" fill="#000"/>
<rect x="276" y="1041" width="136" height="1" fill="#000"/>
<rect x="276" y="1067" width="136" height="1" fill="#000"/>
<text x="44.5" y="31" font-size="10" text-anchor="start" fill="#000" >Lag</text>
<text x="45.2" y="62" font-size="29" text-anchor="start" fill="#000" >11</text>
<text x="143.3" y="31" font-size="10" text-anchor="start" fill="#000" textLength="26" lengthAdjust="spacingAndGlyphs">Skive</text>
<text x="143" y="62" font-size="29" text-anchor="start" fill="#000" >3</text>
<text x="243" y="61.6" font-size="28.8" text-anchor="start" fill="#000" >Ingrid Linnea Valli Langolf</text>
<text x="45" y="87.5" font-size="16" text-anchor="start" fill="#000" >15m</text>
<text x="243" y="87.5" font-size="16" text-anchor="start" fill="#000" >Mostadmark</text>
<text x="623" y="87.5" font-size="16" text-anchor="start" fill="#000" >J</text>
<text x="702" y="87.5" font-size="16" text-anchor="start" fill="#000" >K</text>
<text x="45" y="111.2" font-size="16" text-anchor="start" fill="#000" textLength="101" lengthAdjust="spacingAndGlyphs">14-15.12.2023</text>
<text x="243" y="111.5" font-size="16" text-anchor="start" fill="#000" >Førjulsstevne Meråker</text>
<text x="512" y="111.3" font-size="16" text-anchor="start" fill="#000" >Meråker skytehall</text>
<text x="243.3" y="124.5" font-size="10.7" text-anchor="start" fill="#000" >vipps</text>
<text x="42" y="1105.5" font-size="11" text-anchor="start" fill="#000" >http://www.megalink.no</text>
<text x="342" y="1105.5" font-size="11" text-anchor="start" fill="#000" >MLRes NO-DFS 15m Rifle</text>
<text x="779" y="1105.5" font-size="11" text-anchor="end" fill="#000" >21:24 - 15.12.2023</text>
</svg></body></html>
